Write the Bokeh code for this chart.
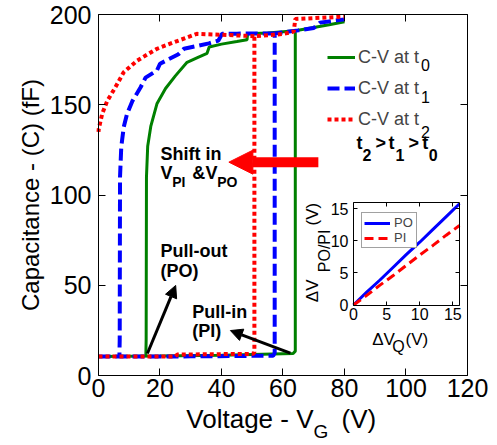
import math
from bokeh.plotting import figure
from bokeh.models import (Range1d, FixedTicker, LinearAxis, Legend, LegendItem,
                          Label, Arrow, NormalHead)
from bokeh.embed import file_html
from bokeh.resources import INLINE

FONT = "Liberation Sans"

# ---------------- data ----------------
# t0 (green): pull-in branch (bottom -> jump at V_PI -> top to 80 V)
g_in_v = [0, 20, 40, 63.3, 64, 64, 70, 75, 80]
g_in_c = [10.5, 10.8, 11.2, 12.2, 13.5, 191, 192.8, 194.3, 196]
# t0 pull-out branch (top going left -> drop at V_PO)
g_out_v = [64, 55, 48.5, 48.3, 45, 40, 36, 35.3, 32, 28.8, 25, 21.8, 19, 17, 16, 15.6, 15.5, 15.4]
g_out_c = [191, 189.8, 189.3, 186, 185, 183.6, 182, 178.5, 176, 173.5, 166, 159, 150.5, 138, 127, 110, 20, 11]

# t1 (blue)
b_in_v = [0, 30, 56.8, 57.3, 57.3, 65, 70, 72, 80]
b_in_c = [10.5, 10.6, 11.0, 12.5, 189.5, 191.2, 192.5, 195.5, 197.3]
b_out_v = [57.3, 45, 40.2, 39, 35.9, 27.8, 26, 20, 19, 15.3, 13.7, 11, 9.3, 8.2, 7.4, 7.0, 6.9, 6.8]
b_out_c = [189.5, 189.4, 189.3, 185.6, 184, 181, 178, 172.7, 169, 165, 159.7, 152, 145, 137.6, 126.5, 110, 20, 10.8]

# t2 (red)
r_in_v = [0, 25, 25.6, 50.3, 50.7, 50.7, 60, 63.5, 64, 70, 80]
r_in_c = [10.5, 10.6, 11.6, 12.0, 13.0, 188, 189.2, 190.5, 197.5, 198, 198.8]
r_out_v = [50.7, 40, 32, 24.5, 19, 12.6, 8.2, 5.5, 2.8, 1.2, 0.1, 0]
r_out_c = [188, 188.8, 189.3, 184.6, 181, 174.5, 168, 159.7, 152, 145, 136.7, 135]

main_x_ticks = [0, 20, 40, 60, 80, 100, 120]
main_y_ticks = [0, 50, 100, 150, 200]

# inset: shift of pull-out / pull-in voltage vs. shift of V_Q
dvq = [0, 2, 4, 6, 8, 10, 12, 14, 16]
dv_po = [0, 2.0, 3.9, 5.9, 7.9, 9.8, 11.8, 13.8, 15.8]
dv_pi = [0, 1.5, 3.1, 4.6, 6.2, 7.8, 9.3, 10.9, 12.4]
inset_ticks = [0, 5, 10, 15]

GREEN = "#008000"
BLUE = "#0000ff"
RED = "#ff0000"

# The frame covers the whole canvas; the boxed axes are placed with fixed_location,
# so every text (axis titles with subscripts) can live inside the frame.
p = figure(width=497, height=445,
           x_range=Range1d(-31.87, 129.76), y_range=Range1d(-38.78, 207.76),
           output_backend="svg", toolbar_location=None, min_border=0)
p.title.visible = False
p.xgrid.visible = False
p.ygrid.visible = False
p.outline_line_color = None
p.background_fill_color = "white"
p.border_fill_color = "white"
p.extra_x_ranges = {"ix": Range1d(-53.28, 21.74)}
p.extra_y_ranges = {"iy": Range1d(-21.93, 47.53)}


# pixel helpers for annotation placement (main / inset coordinates)
def mx(px):
    return (px - 98) / 3.075


def my(py):
    return (375 - py) / 1.805


def ix(px):
    return (px - 353) / 6.625


def iy(py):
    return (304.5 - py) / 6.406


def style_axis(ax, ticks, size, tick_len, standoff, loc, bounds, show=True):
    ax.ticker = FixedTicker(ticks=ticks)
    ax.fixed_location = loc
    ax.bounds = bounds
    ax.major_tick_in = tick_len
    ax.major_tick_out = 0
    ax.minor_tick_line_color = None
    ax.axis_line_color = "black"
    ax.axis_line_width = 1
    ax.major_tick_line_color = "black"
    ax.major_label_text_font = FONT
    ax.major_label_text_font_size = size
    ax.major_label_standoff = standoff
    ax.major_label_text_color = "black" if show else None


# main axes (box with inward ticks on all sides)
style_axis(p.xaxis[0], main_x_ticks, "25px", 7, 3, 0, (0, 120))
style_axis(p.yaxis[0], main_y_ticks, "25px", 7, 7, 0, (0, 200))
top_ax = LinearAxis()
right_ax = LinearAxis()
style_axis(top_ax, main_x_ticks, "25px", 7, 3, 200, (0, 120), show=False)
style_axis(right_ax, main_y_ticks, "25px", 7, 7, 120, (0, 200), show=False)
p.add_layout(top_ax, "above")
p.add_layout(right_ax, "right")

# inset axes
ib = LinearAxis(x_range_name="ix", y_range_name="iy")
il = LinearAxis(x_range_name="ix", y_range_name="iy")
itop = LinearAxis(x_range_name="ix", y_range_name="iy")
irt = LinearAxis(x_range_name="ix", y_range_name="iy")
style_axis(ib, inset_ticks, "16px", 4, 3, 0, (0, 16))
style_axis(il, inset_ticks, "16px", 4, 5, 0, (0, 16))
style_axis(itop, inset_ticks, "16px", 4, 3, 16, (0, 16), show=False)
style_axis(irt, inset_ticks, "16px", 4, 5, 16, (0, 16), show=False)
p.add_layout(ib, "below")
p.add_layout(il, "left")
p.add_layout(itop, "above")
p.add_layout(irt, "right")

# main curves
gl1 = p.line(g_in_v, g_in_c, line_color=GREEN, line_width=3)
p.line(g_out_v, g_out_c, line_color=GREEN, line_width=3)
bl1 = p.line(b_in_v, b_in_c, line_color=BLUE, line_width=4, line_dash="12 5")
p.line(b_out_v, b_out_c, line_color=BLUE, line_width=4, line_dash="12 5")
rl1 = p.line(r_in_v, r_in_c, line_color=RED, line_width=4, line_dash="4 3")
p.line(r_out_v, r_out_c, line_color=RED, line_width=4, line_dash="4 3")

# inset curves
po = p.line(dvq, dv_po, line_color=BLUE, line_width=3, x_range_name="ix", y_range_name="iy")
pi = p.line(dvq, dv_pi, line_color=RED, line_width=3, line_dash="9 5",
            x_range_name="ix", y_range_name="iy")

legend = Legend(items=[LegendItem(label="C-V at t", renderers=[gl1]),
                       LegendItem(label="C-V at t", renderers=[bl1]),
                       LegendItem(label="C-V at t", renderers=[rl1])],
                location=(327, 315.2), padding=0, margin=0, spacing=10,
                glyph_width=28, glyph_height=20, label_height=20, label_standoff=3,
                label_text_font=FONT, label_text_font_size="18px",
                border_line_color=None, background_fill_alpha=0)
p.add_layout(legend)

ileg = Legend(items=[LegendItem(label="PO", renderers=[po]),
                     LegendItem(label="PI", renderers=[pi])],
              location=(361, 196.7), margin=0, padding=2, spacing=0,
              glyph_width=26, glyph_height=12, label_height=12, label_standoff=4,
              label_text_font=FONT, label_text_font_size="13px",
              border_line_color="#444444", border_line_width=1,
              background_fill_color="white", background_fill_alpha=1)
p.add_layout(ileg)

MID = 0.35  # cap-middle above the baseline, in em


def lab(px, py, text, size, bold=False, align="left", rotated=False, inset=False):
    """Place a text by its baseline point given in pixels of the picture."""
    if rotated:
        px = px - MID * size
    else:
        py = py - MID * size
    if inset:
        x, y, kw = ix(px), iy(py), dict(x_range_name="ix", y_range_name="iy")
    else:
        x, y, kw = mx(px), my(py), {}
    p.add_layout(Label(x=x, y=y, text=text, text_font=FONT, text_font_size=f"{size}px",
                       text_font_style="bold" if bold else "normal",
                       text_color="black", text_align=align, text_baseline="middle",
                       angle=math.pi / 2 if rotated else 0.0, **kw))


# axis titles
lab(38, 194.5, "Capacitance - (C) (fF)", 24, align="center", rotated=True)
lab(313, 428, "Voltage - V", 26, align="right")
lab(313, 438, "G", 19)
lab(341, 428, "(V)", 26)

# legend subscripts
lab(420.5, 70, "0", 16)
lab(420.5, 101.7, "1", 16)
lab(420.5, 136.7, "2", 16)

# t2 > t1 > t0
lab(356, 149, "t", 18, True)
lab(362, 160, "2", 16, True)
lab(375, 149, ">", 18, True)
lab(388, 149, "t", 18, True)
lab(395, 160, "1", 16, True)
lab(408, 149, ">", 18, True)
lab(421.7, 149, "t", 18, True)
lab(428.3, 160, "0", 16, True)

# Shift in V_PI & V_PO
lab(160, 160, "Shift in", 18, True)
lab(160, 178.3, "V", 18, True)
lab(171.7, 186.7, "PI", 14, True)
lab(191.7, 178.3, "&", 18, True)
lab(205, 178.3, "V", 18, True)
lab(216.7, 186.7, "PO", 14, True)

# Pull-out / Pull-in
lab(160, 256.7, "Pull-out", 18, True)
lab(160, 276.7, "(PO)", 18, True)
lab(191.7, 317.7, "Pull-in", 18, True)
lab(191.7, 336.7, "(PI)", 18, True)

# inset axis titles
lab(318, 301.7, "\u0394V", 17, rotated=True, inset=True)
lab(330, 271.7, "PO/PI", 16, rotated=True, inset=True)
lab(318, 225, "(V)", 17, rotated=True, inset=True)
lab(371.7, 345, "\u0394V", 17, inset=True)
lab(391.7, 352, "Q", 16, inset=True)
lab(405, 345, "(V)", 17, inset=True)

# arrows
p.add_layout(Arrow(x_start=71.5, y_start=118.2, x_end=42.4, y_end=118.2,
                   line_color=RED, line_width=10,
                   end=NormalHead(size=24, fill_color=RED, line_color=RED, line_width=1)))
p.add_layout(Arrow(x_start=15.9, y_start=12.2, x_end=25.1, y_end=49.9,
                   line_color="black", line_width=3,
                   end=NormalHead(size=12, fill_color="black", line_color="black", line_width=1)))
p.add_layout(Arrow(x_start=62.4, y_start=12.4, x_end=42.9, y_end=24.9,
                   line_color="black", line_width=3,
                   end=NormalHead(size=12, fill_color="black", line_color="black", line_width=1)))

open("out.html", "w").write(file_html(p, INLINE))
